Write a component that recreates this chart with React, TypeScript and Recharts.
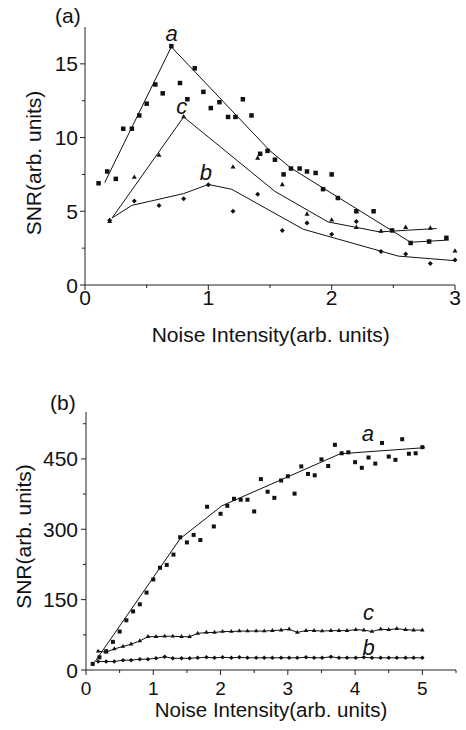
import React from 'react';
import { ScatterChart, Scatter, XAxis, YAxis } from 'recharts';

const FONT = '"Liberation Sans", Arial, Helvetica, sans-serif';
const INK = '#111';
const AXIS = '#222';

// ---------- Panel (a) ----------
const topSquaresX = [0.11, 0.18, 0.25, 0.31, 0.38, 0.44, 0.5, 0.57, 0.63, 0.7, 0.77, 0.83, 0.89, 0.96, 1.02, 1.09, 1.16, 1.22, 1.28, 1.35, 1.42, 1.48, 1.54, 1.61, 1.67, 1.74, 1.8, 1.87, 1.93, 2.0, 2.05, 2.2, 2.34, 2.49, 2.64, 2.79, 2.93];
const topSquaresY = [6.9, 7.7, 7.2, 10.6, 10.6, 11.5, 12.3, 13.6, 13.0, 16.2, 13.7, 12.6, 14.7, 13.1, 12.0, 12.4, 11.4, 11.4, 12.6, 11.5, 8.9, 9.1, 8.5, 7.5, 7.9, 7.9, 7.7, 7.6, 6.5, 7.5, 5.9, 5.0, 5.0, 3.7, 2.85, 2.95, 3.2];
const topTrianglesX = [0.2, 0.4, 0.6, 0.8, 1.2, 1.4, 1.6, 1.8, 2.0, 2.2, 2.4, 2.6, 2.8, 3.0];
const topTrianglesY = [4.3, 7.3, 8.8, 11.4, 8.0, 8.6, 6.8, 4.8, 4.4, 3.9, 3.65, 3.9, 3.85, 2.3];
const topDiamondsX = [0.2, 0.4, 0.6, 0.8, 1.0, 1.2, 1.4, 1.6, 1.8, 2.0, 2.2, 2.4, 2.6, 2.8, 3.0];
const topDiamondsY = [4.4, 5.7, 5.4, 5.85, 6.8, 5.0, 6.15, 3.7, 4.2, 3.45, 4.3, 2.27, 2.1, 1.45, 1.7];

const topFitAX = [0.16, 0.7, 1.5, 1.67, 2.64, 2.95];
const topFitAY = [6.95, 16.15, 9.1, 7.93, 2.9, 3.05];
const topFitCX = [0.22, 0.8, 1.54, 1.97, 2.39, 2.48, 2.85];
const topFitCY = [4.55, 11.4, 6.35, 4.28, 3.6, 3.65, 3.83];
const topFitBX = [0.22, 0.38, 0.8, 1.0, 1.19, 1.77, 2.54, 3.0];
const topFitBY = [4.55, 5.4, 6.2, 6.82, 6.49, 3.78, 1.96, 1.65];

const topXTicks = [0, 0.5, 1, 1.5, 2, 2.5, 3];
const topXLabeled = [0, 1, 2, 3];
const topYTicks = [0, 2.5, 5, 7.5, 10, 12.5, 15];
const topYLabeled = [0, 5, 10, 15];
const topCurveNames = ['a', 'c', 'b'];
const topCurveNameX = [0.703, 0.784, 0.98];
const topCurveNameY = [16.55, 11.6, 7.14];

// ---------- Panel (b) ----------
const botSquaresX = [0.1, 0.2, 0.3, 0.4, 0.5, 0.6, 0.7, 0.8, 0.9, 1.0, 1.1, 1.2, 1.3, 1.4, 1.5, 1.6, 1.7, 1.8, 1.9, 2.0, 2.1, 2.2, 2.3, 2.4, 2.5, 2.6, 2.7, 2.8, 2.9, 3.0, 3.1, 3.2, 3.3, 3.4, 3.5, 3.6, 3.7, 3.8, 3.9, 4.0, 4.1, 4.2, 4.3, 4.4, 4.5, 4.6, 4.7, 4.8, 4.9, 5.0];
const botSquaresY = [13, 27, 40, 60, 82, 106, 125, 140, 165, 193, 218, 224, 246, 283, 272, 288, 277, 348, 306, 333, 350, 365, 363, 363, 338, 407, 380, 367, 404, 413, 376, 434, 418, 415, 449, 435, 480, 462, 464, 443, 431, 453, 440, 484, 455, 448, 492, 461, 462, 475];
const botSmallX = [0.18, 0.3, 0.42, 0.55, 0.67, 0.8, 0.92, 1.04, 1.17, 1.29, 1.42, 1.54, 1.66, 1.79, 1.91, 2.03, 2.16, 2.28, 2.4, 2.53, 2.65, 2.77, 2.9, 3.02, 3.14, 3.27, 3.39, 3.51, 3.64, 3.76, 3.88, 4.01, 4.13, 4.25, 4.38, 4.5, 4.62, 4.75, 4.87, 5.0];
const botTrianglesY = [40, 38, 45, 50, 55, 62, 71, 71, 72, 72, 71, 71, 78, 80, 80, 82, 82, 83, 83, 83, 83, 84, 85, 87, 80, 84, 84, 83, 84, 84, 84, 86, 85, 82, 87, 86, 88, 86, 85, 85];
const botDiamondsY = [18, 18, 18, 21, 21, 23, 23, 25, 28, 25, 25, 25, 26, 27, 26, 27, 26, 27, 26, 26, 26, 26, 26, 26, 26, 27, 26, 26, 28, 26, 26, 26, 27, 26, 26, 26, 26, 26, 26, 26];
const botFitAX = [0.13, 1.4, 2.02, 3.78, 5.04];
const botFitAY = [17, 280, 350, 461, 474];

const botXTicks = [0, 0.5, 1, 1.5, 2, 2.5, 3, 3.5, 4, 4.5, 5, 5.5];
const botXLabeled = [0, 1, 2, 3, 4, 5];
const botYTicks = [0, 75, 150, 225, 300, 375, 450, 525];
const botYLabeled = [0, 150, 300, 450];
const botCurveNames = ['a', 'c', 'b'];
const botCurveNameX = [4.19, 4.2, 4.2];
const botCurveNameY = [489, 106, 32];

// ---------- helpers ----------
const zip = (xs: number[], ys: number[]) => xs.map((x, i) => ({ x, y: ys[i] }));
const names = (ns: string[], xs: number[], ys: number[]) => ns.map((t, i) => ({ x: xs[i], y: ys[i], t }));

const textStyle: React.CSSProperties = { fontFamily: FONT, fontSize: 21, fill: INK };
const smallTextStyle: React.CSSProperties = { fontFamily: FONT, fontSize: 19, fill: INK };
const botTitleStyle: React.CSSProperties = { fontFamily: FONT, fontSize: 20.5, fill: INK };

const NoDot = () => <g />;
const SquareDot = (s: number) => (p: any) =>
  p.cx == null ? <g /> : <rect x={p.cx - s / 2} y={p.cy - s / 2} width={s} height={s} fill={INK} />;
const TriDot = (s: number) => (p: any) => {
  if (p.cx == null) return <g />;
  const h = (s * Math.sqrt(3)) / 2;
  return (
    <polygon
      points={`${p.cx},${p.cy - (2 * h) / 3} ${p.cx - s / 2},${p.cy + h / 3} ${p.cx + s / 2},${p.cy + h / 3}`}
      fill={INK}
    />
  );
};
const DiamondDot = (s: number) => (p: any) => {
  if (p.cx == null) return <g />;
  const r = s / 2;
  return (
    <polygon points={`${p.cx},${p.cy - r} ${p.cx + r},${p.cy} ${p.cx},${p.cy + r} ${p.cx - r},${p.cy}`} fill={INK} />
  );
};
const NameText = (p: any) =>
  p.cx == null ? (
    <g />
  ) : (
    <text x={p.cx} y={p.cy} textAnchor="middle" style={{ fontFamily: FONT, fontSize: 22, fontStyle: 'italic', fill: INK }}>
      {p.payload.t}
    </text>
  );

const makeXTick = (labeled: number[], offset: number, style: React.CSSProperties) => (props: any) => {
  const { x, y, payload } = props;
  const v = payload.value;
  const major = labeled.some((m) => Math.abs(m - v) < 1e-9);
  return (
    <g>
      <line x1={x} x2={x} y1={y} y2={y + (major ? 5 : 3)} stroke={AXIS} strokeWidth={1} />
      {major && (
        <text x={x} y={y + offset} textAnchor="middle" style={style}>
          {v}
        </text>
      )}
    </g>
  );
};
const makeYTick = (labeled: number[], gap: number) => (props: any) => {
  const { x, y, payload } = props;
  const v = payload.value;
  const major = labeled.some((m) => Math.abs(m - v) < 1e-9);
  return (
    <g>
      <line x1={x - (major ? 5 : 3)} x2={x} y1={y} y2={y} stroke={AXIS} strokeWidth={1} />
      {major && (
        <text x={x - gap} y={y} dy="0.36em" textAnchor="end" style={textStyle}>
          {v}
        </text>
      )}
    </g>
  );
};
const yTitle = (title: string, cx: number, cy: number, panel: string, px: number, py: number) => () =>
  (
    <g>
      <text x={cx} y={cy} transform={`rotate(-90 ${cx} ${cy})`} textAnchor="middle" dy="0.36em" style={textStyle}>
        {title}
      </text>
      <text x={px} y={py} textAnchor="start" style={textStyle}>
        {panel}
      </text>
    </g>
  );
const xTitle = (title: string, cx: number, baseline: number, style: React.CSSProperties) => () =>
  (
    <text x={cx} y={baseline} textAnchor="middle" style={style}>
      {title}
    </text>
  );

const lineStyle = { stroke: INK, strokeWidth: 1 };

export default function App() {
  return (
    <div style={{ position: 'absolute', left: 0, top: 0, width: 466, height: 730, background: '#fff' }}>
      <div style={{ position: 'absolute', left: 0, top: 0 }}>
        <ScatterChart width={466} height={360} margin={{ top: 27, right: 11, left: 0, bottom: 0 }}>
          <XAxis
            type="number"
            dataKey="x"
            domain={[0, 3]}
            ticks={topXTicks}
            interval={0}
            height={75}
            tickSize={0}
            tickMargin={0}
            tickLine={false}
            axisLine={{ stroke: AXIS, strokeWidth: 1.2 }}
            tick={makeXTick(topXLabeled, 20, textStyle)}
            label={xTitle('Noise Intensity(arb. units)', 270.7, 342, textStyle)}
          />
          <YAxis
            type="number"
            dataKey="y"
            domain={[0, 17.5]}
            ticks={topYTicks}
            interval={0}
            width={85}
            tickSize={0}
            tickMargin={0}
            tickLine={false}
            axisLine={{ stroke: AXIS, strokeWidth: 1 }}
            tick={makeYTick(topYLabeled, 7)}
            label={yTitle('SNR(arb. units)', 33, 163, '(a)', 55, 23)}
          />
          <Scatter data={zip(topFitAX, topFitAY)} line={lineStyle} shape={NoDot} isAnimationActive={false} />
          <Scatter data={zip(topFitCX, topFitCY)} line={lineStyle} shape={NoDot} isAnimationActive={false} />
          <Scatter data={zip(topFitBX, topFitBY)} line={lineStyle} shape={NoDot} isAnimationActive={false} />
          <Scatter data={zip(topSquaresX, topSquaresY)} shape={SquareDot(4.5)} isAnimationActive={false} />
          <Scatter data={zip(topTrianglesX, topTrianglesY)} shape={TriDot(5)} isAnimationActive={false} />
          <Scatter data={zip(topDiamondsX, topDiamondsY)} shape={DiamondDot(5)} isAnimationActive={false} />
          <Scatter data={names(topCurveNames, topCurveNameX, topCurveNameY)} shape={NameText} isAnimationActive={false} />
        </ScatterChart>
      </div>
      <div style={{ position: 'absolute', left: 0, top: 360 }}>
        <ScatterChart width={466} height={370} margin={{ top: 52, right: 10, left: 0, bottom: 0 }}>
          <XAxis
            type="number"
            dataKey="x"
            domain={[0, 5.5]}
            ticks={botXTicks}
            interval={0}
            height={60}
            tickSize={0}
            tickMargin={0}
            tickLine={false}
            axisLine={{ stroke: AXIS, strokeWidth: 1.2 }}
            tick={makeXTick(botXLabeled, 24.5, smallTextStyle)}
            label={xTitle('Noise Intensity(arb. units)', 271, 357, botTitleStyle)}
          />
          <YAxis
            type="number"
            dataKey="y"
            domain={[0, 550]}
            ticks={botYTicks}
            interval={0}
            width={86}
            tickSize={0}
            tickMargin={0}
            tickLine={false}
            axisLine={{ stroke: AXIS, strokeWidth: 1 }}
            tick={makeYTick(botYLabeled, 8)}
            label={yTitle('SNR(arb. units)', 23.3, 176.5, '(b)', 50, 50)}
          />
          <Scatter data={zip(botFitAX, botFitAY)} line={lineStyle} shape={NoDot} isAnimationActive={false} />
          <Scatter data={zip(botSquaresX, botSquaresY)} shape={SquareDot(4)} isAnimationActive={false} />
          <Scatter data={zip(botSmallX, botTrianglesY)} line={lineStyle} shape={TriDot(4.5)} isAnimationActive={false} />
          <Scatter data={zip(botSmallX, botDiamondsY)} line={lineStyle} shape={DiamondDot(4.5)} isAnimationActive={false} />
          <Scatter data={names(botCurveNames, botCurveNameX, botCurveNameY)} shape={NameText} isAnimationActive={false} />
        </ScatterChart>
      </div>
    </div>
  );
}
